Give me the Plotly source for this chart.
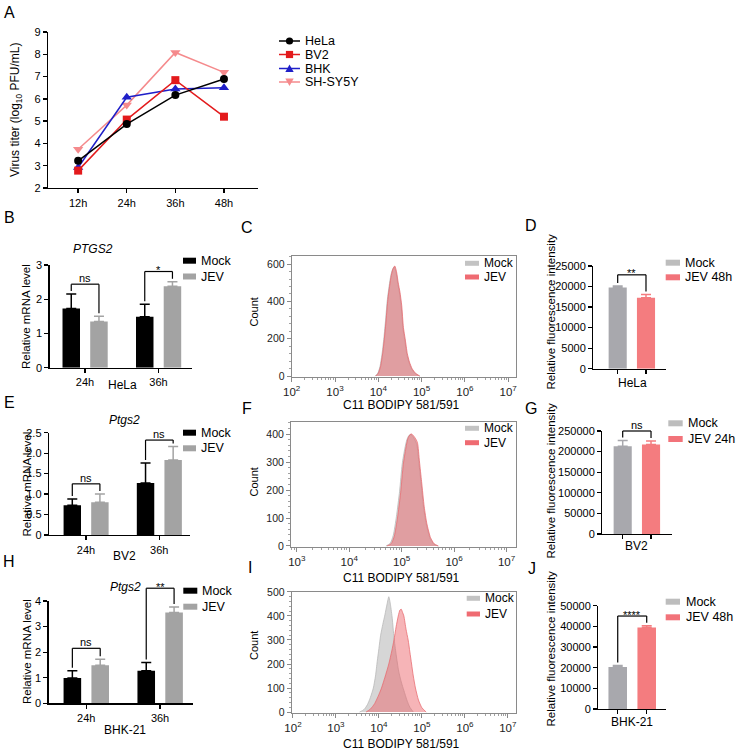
import numpy as np
import plotly.graph_objects as go

W, H = 738, 751
FONT = "Arial, 'Liberation Sans', Helvetica, sans-serif"

# ===================== DATA =====================
# A: virus titer (log10 PFU/mL)
A_times = ["12h", "24h", "36h", "48h"]
A_names = ["HeLa", "BV2", "BHK", "SH-SY5Y"]
A_hela = [3.22, 4.87, 6.17, 6.89]
A_bv2 = [2.78, 5.07, 6.84, 5.20]
A_bhk = [2.92, 6.07, 6.44, 6.50]
A_shsy5y = [3.74, 5.72, 8.08, 7.19]
A_yticks = [2, 3, 4, 5, 6, 7, 8, 9]

# B / E / H: relative mRNA level
qpcr_times = ["24h", "36h"]
qpcr_groups = ["Mock", "JEV"]

B_mock = [1.73, 1.49]
B_mock_err = [0.42, 0.36]
B_jev = [1.35, 2.38]
B_jev_err = [0.15, 0.13]
B_sig = ["ns", "*"]
B_sig_y = [2.44, 2.81]
B_yticks = [0, 1, 2, 3]

E_mock = [0.73, 1.27]
E_mock_err = [0.15, 0.49]
E_jev = [0.80, 1.83]
E_jev_err = [0.20, 0.33]
E_sig = ["ns", "ns"]
E_sig_y = [1.25, 2.32]
E_yticks = [0, 0.5, 1.0, 1.5, 2.0, 2.5]
E_yticklabels = ["0", "0.5", "1.0", "1.5", "2.0", "2.5"]

H_mock = [0.99, 1.27]
H_mock_err = [0.28, 0.33]
H_jev = [1.49, 3.55]
H_jev_err = [0.23, 0.22]
H_sig = ["ns", "**"]
H_sig_y = [2.15, 4.50]
H_yticks = [0, 1, 2, 3, 4]

# C / F / I: C11 BODIPY flow histograms (x = log10 intensity, y = count)
C_mock_x = [3.93, 3.99, 4.04, 4.09, 4.13, 4.17, 4.21, 4.25, 4.29, 4.33, 4.37, 4.41, 4.45, 4.49, 4.53, 4.57, 4.61, 4.66, 4.71, 4.77, 4.85, 4.95]
C_mock_y = [0, 16, 52, 125, 205, 305, 412, 482, 540, 572, 585, 556, 495, 445, 372, 255, 195, 116, 72, 38, 14, 0]
C_jev_x = [3.94, 4.00, 4.05, 4.10, 4.14, 4.18, 4.22, 4.26, 4.30, 4.34, 4.38, 4.42, 4.46, 4.50, 4.54, 4.58, 4.62, 4.67, 4.72, 4.78, 4.86, 4.96]
C_jev_y = [0, 15, 50, 120, 200, 300, 410, 480, 540, 575, 590, 560, 500, 450, 380, 260, 200, 120, 75, 40, 15, 0]
C_xticks = [2, 3, 4, 5, 6, 7]
C_yticks = [0, 200, 400, 600]

F_mock_x = [4.70, 4.78, 4.84, 4.90, 4.96, 5.01, 5.06, 5.10, 5.14, 5.18, 5.21, 5.25, 5.29, 5.33, 5.37, 5.42, 5.47, 5.54, 5.61, 5.69]
F_mock_y = [0, 9, 38, 105, 195, 292, 348, 380, 395, 398, 392, 380, 362, 295, 225, 135, 78, 28, 7, 0]
F_jev_x = [4.72, 4.80, 4.86, 4.92, 4.98, 5.03, 5.08, 5.12, 5.16, 5.19, 5.22, 5.26, 5.30, 5.34, 5.38, 5.43, 5.48, 5.55, 5.62, 5.70]
F_jev_y = [0, 8, 35, 100, 190, 290, 350, 385, 398, 400, 395, 385, 370, 300, 230, 140, 80, 30, 8, 0]
F_xticks = [3, 4, 5, 6, 7]
F_yticks = [0, 100, 200, 300, 400]

I_mock_x = [3.55, 3.65, 3.73, 3.80, 3.87, 3.92, 3.96, 4.00, 4.04, 4.09, 4.14, 4.19, 4.23, 4.27, 4.31, 4.35, 4.40, 4.46, 4.52, 4.58, 4.65, 4.72, 4.80]
I_mock_y = [0, 10, 30, 60, 100, 150, 210, 265, 320, 365, 405, 450, 480, 445, 390, 310, 240, 170, 125, 90, 50, 20, 0]
I_jev_x = [3.70, 3.80, 3.90, 3.98, 4.06, 4.14, 4.23, 4.30, 4.35, 4.40, 4.45, 4.49, 4.52, 4.55, 4.58, 4.63, 4.68, 4.72, 4.76, 4.80, 4.85, 4.92, 5.00, 5.10]
I_jev_y = [0, 12, 35, 65, 100, 145, 200, 255, 300, 355, 400, 425, 428, 415, 400, 345, 300, 250, 200, 150, 100, 50, 18, 0]
I_xticks = [2, 3, 4, 5, 6, 7]
I_yticks = [0, 100, 200, 300, 400, 500]

# D / G / J: relative fluorescence intensity
D_groups = ["Mock", "JEV 48h"]
D_vals = [19750, 17300]
D_err = [400, 750]
D_sig = "**"
D_sig_y = 22850
D_yticks = [0, 5000, 10000, 15000, 20000, 25000]

G_groups = ["Mock", "JEV 24h"]
G_vals = [213000, 217000]
G_err = [14000, 9000]
G_sig = "ns"
G_sig_y = 250000
G_yticks = [0, 50000, 100000, 150000, 200000, 250000]

J_groups = ["Mock", "JEV 48h"]
J_vals = [20300, 39500]
J_err = [800, 800]
J_sig = "****"
J_sig_y = 45000
J_yticks = [0, 10000, 20000, 30000, 40000, 50000]

# ===================== STYLE =====================
COL_A = {"HeLa": "#000000", "BV2": "#e31a1c", "BHK": "#1f1fc8", "SH-SY5Y": "#f58a8c"}
SYM_A = {"HeLa": "circle", "BV2": "square", "BHK": "triangle-up", "SH-SY5Y": "triangle-down"}
Q_MOCK, Q_JEV = "#000000", "#a3a3a3"
FL_MOCK, FL_JEV = "#a8a8ad", "#f47c7f"
FL_MOCK_LEG, FL_JEV_LEG = "#bdbdbd", "#f2737a"
FLOW_MOCK_FILL, FLOW_MOCK_LINE = "rgba(198,198,198,0.72)", "rgba(185,185,185,1)"
FLOW_JEV_FILL, FLOW_JEV_LINE = "rgba(236,92,98,0.46)", "rgba(232,105,110,0.95)"
FLOW_LEG_MOCK, FLOW_LEG_JEV = "#c3c3c3", "#ef6b72"
AXC = "#8a8a8a"

fig = go.Figure()
axes = {}
shapes = []
annots = []


def dom_x(a, b):
    return [a / W, b / W]


def dom_y(top, bot):
    return [1 - bot / H, 1 - top / H]


def add_axes(n, box, xr, yr, xkw, ykw):
    x0, x1, yt, yb = box
    sx = "" if n == 1 else str(n)
    axes["xaxis" + sx] = dict(domain=dom_x(x0, x1), anchor="y" + sx, range=xr, **xkw)
    axes["yaxis" + sx] = dict(domain=dom_y(yt, yb), anchor="x" + sx, range=yr, **ykw)
    return "x" + sx, "y" + sx


def txt(x, y, s, size=11, color="black", xanchor="center", yanchor="middle", angle=0):
    annots.append(dict(x=x / W, y=1 - y / H, xref="paper", yref="paper", text=s,
                       showarrow=False, textangle=angle, xanchor=xanchor, yanchor=yanchor,
                       font=dict(size=size, family=FONT, color=color)))


def rect(x0, y0, x1, y1, color):
    shapes.append(dict(type="rect", xref="paper", yref="paper", x0=x0 / W, x1=x1 / W,
                       y0=1 - y1 / H, y1=1 - y0 / H, fillcolor=color, line=dict(width=0)))


def seg(x0, y0, x1, y1, color="black", width=1.2):
    shapes.append(dict(type="line", xref="paper", yref="paper", x0=x0 / W, y0=1 - y0 / H,
                       x1=x1 / W, y1=1 - y1 / H, line=dict(color=color, width=width)))


def to_px(box, xr, yr, xv, yv):
    x0, x1, yt, yb = box
    return (x0 + (xv - xr[0]) / (xr[1] - xr[0]) * (x1 - x0),
            yb - (yv - yr[0]) / (yr[1] - yr[0]) * (yb - yt))


def bracket(box, xr, yr, xl, xrr, ytop, capl, capr, label):
    xL, yB = to_px(box, xr, yr, xl, ytop)
    xR, _ = to_px(box, xr, yr, xrr, ytop)
    _, yl = to_px(box, xr, yr, xl, capl)
    _, yrr = to_px(box, xr, yr, xrr, capr)
    lw = 1.2
    seg(xL, yB, xR, yB, width=lw)
    seg(xL, yB, xL, yl - 3, width=lw)
    seg(xR, yB, xR, yrr - 3, width=lw)
    if "*" in label:
        txt((xL + xR) / 2, yB - 1.5, label, size=11)
    else:
        txt((xL + xR) / 2, yB - 6, label, size=11)


bar_axis = dict(showline=True, linecolor="black", linewidth=1.3, ticks="outside", ticklen=4,
                tickwidth=1.3, tickcolor="black", showgrid=False, zeroline=False,
                tickfont=dict(size=11, color="black", family=FONT), fixedrange=True)
flow_axis = dict(showline=True, mirror=True, linecolor=AXC, linewidth=1, ticks="outside",
                 ticklen=4, tickwidth=1, tickcolor=AXC, showgrid=False, zeroline=False,
                 tickfont=dict(size=10.5, color="#222222", family=FONT), fixedrange=True)

# ===================== PANEL A =====================
A_box = (48, 258, 32, 188)
A_xr = [-0.62, 3.70]
ax, ay = add_axes(1, A_box, A_xr, [2, 9],
                  dict(bar_axis, type="category", categoryorder="array", categoryarray=A_times),
                  dict(bar_axis, tickvals=A_yticks))
A_data = {"HeLa": A_hela, "BV2": A_bv2, "BHK": A_bhk, "SH-SY5Y": A_shsy5y}
for name in ["SH-SY5Y", "BHK", "BV2", "HeLa"]:
    fig.add_trace(go.Scatter(x=A_times, y=A_data[name], mode="lines+markers", name=name,
                             line=dict(color=COL_A[name], width=1.5),
                             marker=dict(symbol=SYM_A[name], size=8 if SYM_A[name] in ("circle", "square") else 9,
                                         color=COL_A[name]),
                             xaxis=ax, yaxis=ay, showlegend=False, cliponaxis=False))
txt(16, 110, "Virus titer (log<sub>10</sub> PFU/mL)", size=12, angle=-90)
# legend A
leg_y = [41, 54.5, 68.5, 82]
for name, yy in zip(A_names, leg_y):
    c = COL_A[name]
    seg(279, yy, 300, yy, color=c, width=1.5)
    cx, r = 289.5, 3.6
    if SYM_A[name] == "circle":
        shapes.append(dict(type="circle", xref="paper", yref="paper", x0=(cx - r) / W, x1=(cx + r) / W,
                           y0=1 - (yy + r) / H, y1=1 - (yy - r) / H, fillcolor=c, line=dict(width=0)))
    elif SYM_A[name] == "square":
        rect(cx - r, yy - r, cx + r, yy + r, c)
    else:
        s = 1 if SYM_A[name] == "triangle-up" else -1
        pts = [(cx - 4.2, yy + s * 3.4), (cx + 4.2, yy + s * 3.4), (cx, yy - s * 4.0)]
        path = "M " + " L ".join(f"{px / W},{1 - py / H}" for px, py in pts) + " Z"
        shapes.append(dict(type="path", xref="paper", yref="paper", path=path, fillcolor=c,
                           line=dict(width=0)))
    txt(303, yy, name, size=12.5, xanchor="left")

# ===================== qPCR PANELS (B, E, H) =====================
MOCK_C, JEV_C, BAR_W = -0.187, 0.19, 0.238


def qpcr_panel(n, box, xr, yr, ytv, ytt, mock, mock_err, jev, jev_err, sig, sig_y):
    xa, ya = add_axes(n, box, xr, yr,
                      dict(bar_axis, type="category", categoryorder="array", categoryarray=qpcr_times),
                      dict(bar_axis, tickvals=ytv, ticktext=ytt))
    for vals, errs, col, cen, nm in [(mock, mock_err, Q_MOCK, MOCK_C, "Mock"),
                                     (jev, jev_err, Q_JEV, JEV_C, "JEV")]:
        fig.add_trace(go.Bar(x=qpcr_times, y=vals, name=nm, width=BAR_W, offset=cen - BAR_W / 2,
                             marker=dict(color=col, line=dict(width=0)),
                             error_y=dict(type="data", array=errs, arrayminus=[0] * len(errs),
                                          symmetric=False, color=col, thickness=1.5, width=5),
                             xaxis=xa, yaxis=ya, showlegend=False))
    for i in range(len(qpcr_times)):
        bracket(box, xr, yr, i + MOCK_C, i + JEV_C, sig_y[i],
                mock[i] + mock_err[i], jev[i] + jev_err[i], sig[i])


B_box, B_xr = (49.5, 192, 265, 367.7), [-0.483, 1.456]
qpcr_panel(2, B_box, B_xr, [0, 3], B_yticks, [str(v) for v in B_yticks],
           B_mock, B_mock_err, B_jev, B_jev_err, B_sig, B_sig_y)
E_box, E_xr = (49, 190, 432.7, 535), [-0.505, 1.42]
qpcr_panel(5, E_box, E_xr, [0, 2.5], E_yticks, E_yticklabels,
           E_mock, E_mock_err, E_jev, E_jev_err, E_sig, E_sig_y)
H_box, H_xr = (48.5, 193, 601, 703.3), [-0.51, 1.446]
qpcr_panel(8, H_box, H_xr, [0, 4], H_yticks, [str(v) for v in H_yticks],
           H_mock, H_mock_err, H_jev, H_jev_err, H_sig, H_sig_y)

for (tx, ty, title), (yx, yy), (lx, ly, lab), (rx0, rx1, txx, ly1, ly2) in [
        ((93, 249, "<i>PTGS2</i>"), (26, 316), (122, 385, "HeLa"), (183, 196, 199, 260.7, 276.5)),
        ((124, 420, "<i>Ptgs2</i>"), (26.5, 484), (124, 556, "BV2"), (183, 196, 199, 432.7, 448.3)),
        ((125, 586.5, "<i>Ptgs2</i>"), (27, 652), (125, 730, "BHK-21"), (183.3, 197.3, 200, 590.7, 606.7))]:
    txt(tx, ty, title, size=12)
    txt(yx, yy, "Relative mRNA level", size=11.5, angle=-90)
    txt(lx, ly, lab, size=12)
    rect(rx0, ly1 - 3, rx1, ly1 + 3, Q_MOCK)
    rect(rx0, ly2 - 3, rx1, ly2 + 3, Q_JEV)
    txt(txx, ly1, qpcr_groups[0], size=12.5, xanchor="left")
    txt(txx, ly2, qpcr_groups[1], size=12.5, xanchor="left")

# ===================== FLOW PANELS (C, F, I) =====================


def flow_panel(n, box, xr, yr, xt, yt, ymin, mx, my, jx, jy, title_y, count_xy, leg):
    minor_x = [k * 10.0 ** e for e in range(1, 8) for k in range(2, 10)]
    xa, ya = add_axes(n, box, xr, yr,
                      dict(flow_axis, type="log", tickvals=[10.0 ** e for e in xt],
                           ticktext=[f"10<sup>{e}</sup>" for e in xt],
                           tickfont=dict(size=11.5, color="#222222", family=FONT),
                           minor=dict(ticks="outside", ticklen=2, tickwidth=0.8, tickcolor=AXC,
                                      tickmode="array", tickvals=minor_x)),
                      dict(flow_axis, tickvals=yt,
                           minor=dict(ticks="outside", ticklen=2, tickwidth=0.8, tickcolor=AXC,
                                      dtick=ymin, tick0=0)))
    fig.add_trace(go.Scatter(x=[10.0 ** v for v in mx], y=my, mode="lines", name="Mock",
                             line=dict(color=FLOW_MOCK_LINE, width=0.8, shape="spline", smoothing=0.6),
                             fill="tozeroy", fillcolor=FLOW_MOCK_FILL, xaxis=xa, yaxis=ya, showlegend=False))
    fig.add_trace(go.Scatter(x=[10.0 ** v for v in jx], y=jy, mode="lines", name="JEV",
                             line=dict(color=FLOW_JEV_LINE, width=0.8, shape="spline", smoothing=0.6),
                             fill="tozeroy", fillcolor=FLOW_JEV_FILL, xaxis=xa, yaxis=ya, showlegend=False))
    txt(401.7, title_y, "C11 BODIPY 581/591", size=12)
    txt(count_xy[0], count_xy[1], "Count", size=11, angle=-90)
    lx0, lx1, ltx, l1, l2 = leg
    rect(lx0, l1 - 2.5, lx1, l1 + 2.5, FLOW_LEG_MOCK)
    rect(lx0, l2 - 2.5, lx1, l2 + 2.5, FLOW_LEG_JEV)
    txt(ltx, l1, "Mock", size=12, xanchor="left")
    txt(ltx, l2, "JEV", size=12, xanchor="left")


flow_panel(3, (291.7, 516, 255.7, 377), [2, 7.18], [-5, 645], C_xticks, C_yticks, 40,
           C_mock_x, C_mock_y, C_jev_x, C_jev_y, 405, (253.5, 312), (465, 479, 481.7, 263.3, 277))
flow_panel(6, (291, 516, 421.7, 547), [2.89, 7.18], [-3.6, 444], F_xticks, F_yticks, 20,
           F_mock_x, F_mock_y, F_jev_x, F_jev_y, 578, (253.5, 482), (465, 479, 481.7, 428.3, 442.7))
flow_panel(9, (291.7, 516, 591.7, 713), [1.97, 7.19], [-4, 501], I_xticks, I_yticks, 20,
           I_mock_x, I_mock_y, I_jev_x, I_jev_y, 744, (254, 646), (466.7, 480, 483, 598.3, 614))

# ===================== FLUORESCENCE BARS (D, G, J) =====================
FL_W = 0.64


def fl_panel(n, box, xr, yr, groups, vals, errs, yt, sig, sig_y, lab, yt_center, leg):
    xa, ya = add_axes(n, box, xr, yr,
                      dict(bar_axis, type="category", categoryorder="array", categoryarray=groups,
                           showticklabels=False),
                      dict(bar_axis, tickvals=yt, ticktext=[str(v) for v in yt]))
    for g, v, e, col in zip(groups, vals, errs, [FL_MOCK, FL_JEV]):
        fig.add_trace(go.Bar(x=[g], y=[v], name=g, width=FL_W,
                             marker=dict(color=col, line=dict(width=0)),
                             error_y=dict(type="data", array=[e], arrayminus=[0], symmetric=False,
                                          color=col, thickness=1.5, width=5),
                             xaxis=xa, yaxis=ya, showlegend=False))
    bracket(box, xr, yr, 0, 1, sig_y, vals[0] + errs[0], vals[1] + errs[1], sig)
    txt(lab[0], lab[1], lab[2], size=12)
    txt(550.5, yt_center, "Relative fluorescence intensity", size=11.5, angle=-90)
    lx0, lx1, ltx, l1, l2 = leg
    rect(lx0, l1 - 3, lx1, l1 + 3, FL_MOCK_LEG)
    rect(lx0, l2 - 3, lx1, l2 + 3, FL_JEV_LEG)
    txt(ltx, l1, groups[0], size=12.5, xanchor="left")
    txt(ltx, l2, groups[1], size=12.5, xanchor="left")


fl_panel(4, (593.3, 666, 266, 368.7), [-0.862, 1.707], [0, 25000], D_groups, D_vals, D_err,
         D_yticks, D_sig, D_sig_y, (632, 383, "HeLa"), 312, (665.7, 680, 683.3, 262.7, 277.3))
fl_panel(7, (602.3, 671.7, 431, 534), [-0.72, 1.73], [0, 250000], G_groups, G_vals, G_err,
         G_yticks, G_sig, G_sig_y, (636.7, 546, "BV2"), 481, (668.3, 682.7, 686, 423.3, 439))
fl_panel(10, (598.3, 665.7, 605.7, 709), [-0.67, 1.655], [0, 50000], J_groups, J_vals, J_err,
         J_yticks, J_sig, J_sig_y, (631.7, 721.7, "BHK-21"), 649, (665.7, 680, 684.3, 601.7, 617.3))

# ===================== PANEL LETTERS =====================
for L, x, y in [("A", 9, 12.5), ("B", 9, 217.5), ("C", 247, 227), ("D", 531, 226),
                ("E", 9, 402.5), ("F", 246.7, 408), ("G", 531, 408.7), ("H", 9, 561),
                ("I", 250, 567.5), ("J", 532, 568)]:
    txt(x, y, L, size=16)

fig.update_layout(width=W, height=H, margin=dict(l=0, r=0, t=0, b=0, pad=0, autoexpand=False),
                  paper_bgcolor="white", plot_bgcolor="white", showlegend=False,
                  font=dict(family=FONT, color="black", size=11),
                  shapes=shapes, annotations=annots, **axes)
fig.write_html("out.html", config={"displayModeBar": False, "staticPlot": True},
               post_script="document.body.style.margin='0';document.body.style.padding='0';"
                           "document.documentElement.style.overflow='hidden';")
